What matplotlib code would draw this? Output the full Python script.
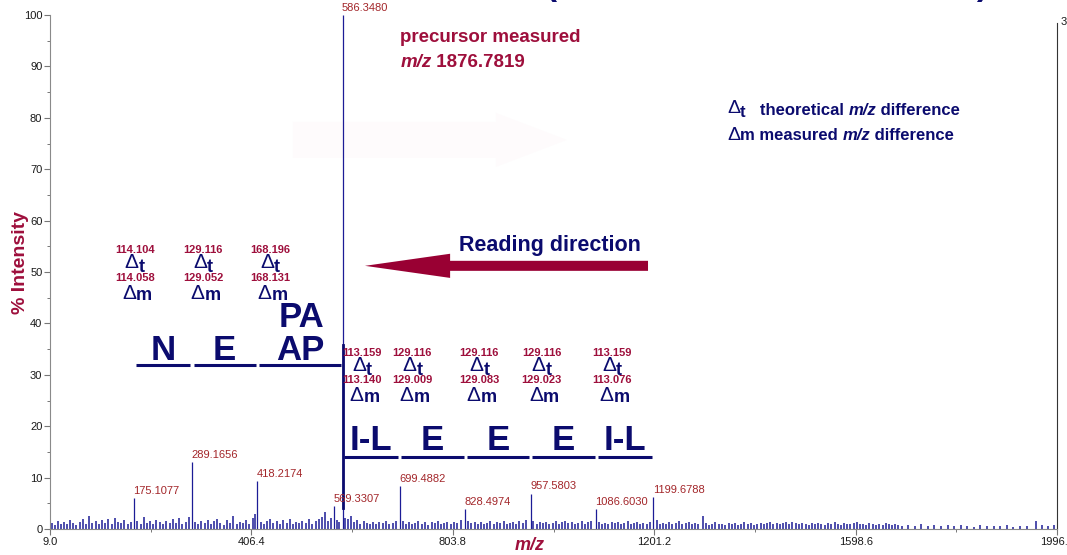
import matplotlib
matplotlib.use("Agg")
import matplotlib.pyplot as plt
from matplotlib.patches import FancyArrow

plt.rcParams["font.family"] = ["Liberation Sans", "DejaVu Sans"]

NAVY = "#0b0b6e"
CRIMSON = "#9e0f3c"
PEAK_RED = "#a3262a"
STICK = "#1c1c96"

# labelled fragment ions (m/z, % intensity)
peak_mz = [175.1077, 289.1656, 418.2174, 569.3307, 586.3480,
           699.4882, 828.4974, 957.5803, 1086.6030, 1199.6788]
peak_int = [6.0, 13.1, 9.4, 4.5, 100.0, 8.4, 3.9, 6.9, 3.9, 6.3]

# unlabelled background sticks
noise_mz = [
    12, 19, 24, 31, 37, 42, 49, 55, 61, 68,
    74, 81, 86, 92, 99, 105, 111, 118, 124, 131,
    137, 143, 150, 156, 163, 169, 181, 188, 194, 200,
    207, 213, 219, 226, 232, 238, 245, 251, 258, 264,
    270, 277, 283, 295, 301, 307, 314, 320, 326, 333,
    339, 345, 352, 358, 364, 371, 377, 383, 390, 396,
    402, 409, 413, 425, 431, 438, 444, 450, 457, 463,
    469, 476, 482, 488, 495, 501, 507, 514, 520, 526,
    533, 539, 545, 552, 558, 563, 575, 580, 592, 597,
    603, 609, 615, 621, 628, 634, 640, 647, 653, 659,
    666, 672, 678, 685, 691, 705, 711, 717, 724, 730,
    736, 743, 749, 755, 762, 768, 774, 781, 787, 793,
    800, 806, 812, 819, 834, 840, 847, 853, 859, 866,
    872, 878, 885, 891, 897, 904, 910, 916, 923, 929,
    935, 942, 948, 963, 969, 975, 982, 988, 994, 1001,
    1007, 1013, 1020, 1026, 1032, 1039, 1045, 1051, 1058, 1064,
    1070, 1077, 1092, 1098, 1104, 1111, 1117, 1123, 1130, 1136,
    1142, 1149, 1155, 1161, 1168, 1174, 1180, 1187, 1193, 1206,
    1212, 1218, 1225, 1231, 1237, 1244, 1250, 1256, 1263, 1269,
    1275, 1282, 1288, 1297, 1303, 1310, 1316, 1322, 1329, 1335,
    1341, 1348, 1354, 1360, 1367, 1373, 1379, 1386, 1392, 1398,
    1405, 1411, 1417, 1424, 1430, 1436, 1443, 1449, 1455, 1462,
    1468, 1474, 1481, 1487, 1493, 1500, 1506, 1512, 1519, 1525,
    1531, 1538, 1544, 1550, 1557, 1563, 1569, 1576, 1582, 1588,
    1595, 1601, 1607, 1614, 1620, 1626, 1633, 1639, 1645, 1652,
    1658, 1664, 1671, 1677, 1683, 1690, 1702, 1715, 1728, 1741,
    1754, 1767, 1780, 1793, 1806, 1819, 1832, 1845, 1858, 1871,
    1884, 1897, 1910, 1923, 1936, 1954, 1966, 1979, 1990,
]
noise_int = [
    1.1, 0.8, 1.6, 1.0, 1.4, 0.9, 1.7, 1.2, 0.8, 1.3,
    1.9, 1.0, 2.6, 1.1, 1.5, 0.9, 1.8, 1.2, 2.0, 1.0,
    2.1, 1.4, 1.1, 1.7, 0.9, 1.3, 1.6, 1.0, 2.3, 1.2,
    1.5, 1.0, 1.8, 1.3, 0.9, 1.6, 1.1, 1.9, 1.2, 2.2,
    1.0, 1.4, 2.4, 1.3, 0.9, 1.6, 1.1, 1.8, 1.0, 1.5,
    2.0, 1.2, 0.8, 1.7, 1.1, 2.5, 1.0, 1.4, 1.2, 1.8,
    1.0, 2.2, 3.0, 1.3, 1.0, 1.6, 2.0, 1.1, 1.5, 0.9,
    1.7, 1.2, 1.9, 1.0, 1.4, 1.1, 1.6, 1.2, 2.0, 1.0,
    1.5, 1.9, 2.4, 3.3, 1.6, 2.1, 1.8, 1.4, 2.2, 1.9,
    2.6, 1.3, 1.8, 1.0, 1.5, 1.2, 1.0, 1.4, 0.9, 1.3,
    1.1, 1.6, 1.0, 1.2, 1.5, 1.6, 1.0, 1.3, 0.9, 1.2,
    1.5, 1.0, 1.4, 0.8, 1.3, 1.1, 1.6, 0.9, 1.2, 1.4,
    1.0, 1.3, 1.1, 1.7, 1.5, 1.1, 1.3, 0.9, 1.4, 1.0,
    1.2, 1.6, 0.9, 1.3, 1.1, 1.5, 1.0, 1.2, 1.4, 0.9,
    1.6, 1.2, 1.8, 1.5, 1.0, 1.3, 1.1, 1.4, 0.9, 1.2,
    1.5, 1.0, 1.3, 1.6, 1.1, 1.4, 1.0, 1.2, 1.5, 0.9,
    1.3, 1.6, 1.4, 1.0, 1.2, 0.9, 1.3, 1.1, 1.4, 1.0,
    1.2, 1.5, 0.9, 1.1, 1.3, 1.0, 1.2, 0.9, 1.4, 1.8,
    1.0, 1.2, 0.9, 1.3, 1.0, 1.2, 1.6, 0.9, 1.1, 1.3,
    1.0, 1.2, 0.9, 2.5, 1.1, 0.8, 1.0, 1.3, 0.9, 1.0,
    0.8, 1.1, 0.9, 1.2, 0.8, 1.0, 1.3, 0.9, 1.1, 0.8,
    1.0, 1.2, 0.9, 1.1, 1.4, 1.0, 1.2, 0.9, 1.1, 1.3,
    1.0, 1.4, 1.1, 0.9, 1.2, 1.0, 0.8, 1.1, 0.9, 1.2,
    1.0, 0.8, 1.1, 0.9, 1.3, 1.0, 0.8, 1.1, 0.9, 1.0,
    1.2, 1.4, 0.9, 1.0, 0.8, 1.1, 0.9, 0.7, 1.0, 0.8,
    1.1, 0.9, 0.7, 1.0, 0.8, 0.6, 0.8, 0.6, 0.9, 0.5,
    0.7, 0.6, 0.8, 0.5, 0.7, 0.6, 0.4, 0.7, 0.5, 0.6,
    0.5, 0.8, 0.4, 0.6, 0.5, 1.6, 0.7, 0.5, 0.8,
]

# sequence ladders read from the fragment series
ladder_left = [175.1077, 289.1656, 418.2174, 586.3480]
residues_left = ["N", "E", "AP"]
dt_left = ["114.104", "129.116", "168.196"]
dm_left = ["114.058", "129.052", "168.131"]
delta_x_left = [176, 311, 443]

ladder_right = [586.3480, 699.4882, 828.4974, 957.5803, 1086.6030, 1199.6788]
residues_right = ["I-L", "E", "E", "E", "I-L"]
dt_right = ["113.159", "129.116", "129.116", "129.116", "113.159"]
dm_right = ["113.140", "129.009", "129.083", "129.023", "113.076"]
delta_x_right = [625, 724, 856, 979, 1118]

x_ticks = [9.0, 406.4, 803.8, 1201.2, 1598.6, 1996.0]

DPI = 100
fig = plt.figure(figsize=(10.67, 5.55), dpi=DPI)
ax = fig.add_axes([50 / 1067, 1 - 529 / 555, 1007 / 1067, 514 / 555])
renderer = fig.canvas.get_renderer()


def run_text(x, y, pieces, center=False):
    """Lay text pieces side by side from (x, y); each piece is
    (text, dy in points, kwargs)."""
    anns, offset = [], 0.0
    for txt, dy, kw in pieces:
        a = ax.annotate(txt, (x, y), xytext=(offset, dy), textcoords="offset points",
                        ha="left", va="baseline", annotation_clip=False, **kw)
        offset += a.get_window_extent(renderer).width * 72 / DPI
        anns.append((a, dy))
    if center:
        shift = offset / 2
        for a, dy in anns:
            ox, _ = a.xyann
            a.xyann = (ox - shift, dy)
    return anns


ax.vlines(noise_mz, 0, noise_int, color=STICK, lw=1.1)
ax.vlines(peak_mz, 0, peak_int, color=STICK, lw=0.9)

for mz, h in zip(peak_mz, peak_int):
    ax.annotate(f"{mz:.4f}", (mz, h), xytext=(-0.5, 1.5), textcoords="offset points",
                ha="left", va="bottom", fontsize=8, color=PEAK_RED,
                annotation_clip=False)

ax.set_xlim(9.0, 1996.0)
ax.set_ylim(0, 100)
ax.set_xticks(x_ticks)
ax.set_xticklabels([f"{t:.1f}" for t in x_ticks])
ax.set_xticks([(a + b) / 2 for a, b in zip(x_ticks[:-1], x_ticks[1:])], minor=True)
ax.set_yticks(range(0, 101, 10))
ax.set_yticks(range(5, 100, 10), minor=True)
ax.tick_params(axis="both", which="major", length=4, width=0.8, color="#777777",
               labelsize=8, pad=1.5, labelcolor="#1a1a1a")
ax.tick_params(axis="both", which="minor", length=2.5, width=0.7, color="#777777")
ax.spines["top"].set_visible(False)
ax.spines["left"].set_color("#8a8a8a")
ax.spines["bottom"].set_color("#8a8a8a")
ax.spines["right"].set_color("#333333")
ax.spines["right"].set_linewidth(0.8)
ax.spines["right"].set_bounds(0, 98.5)

fig.text(21 / 1067, 1 - 262 / 555, "% Intensity", rotation=90, ha="center", va="center",
         fontsize=14, fontweight="bold", color=CRIMSON)
fig.text(530 / 1067, 1 - 545 / 555, "m/z", ha="center", va="center", fontsize=13,
         fontweight="bold", style="italic", color=CRIMSON)
fig.text(1061 / 1067, 1 - 22 / 555, "3", ha="left", va="center", fontsize=8,
         color="#1a1a1a")

# bottoms of a heading that runs off the top edge
for px in (551, 982):
    fig.text(px / 1067, 1 + 5 / 555, "(" if px < 700 else ")", ha="center",
             va="baseline", fontsize=24, fontweight="bold", color=NAVY)

# faint ghost arrow behind the spectrum
ax.add_patch(FancyArrow(488, 75.7, 541, 0, width=7.0, head_width=10.5,
                        head_length=140, length_includes_head=True,
                        color="#fefbfc", lw=0, zorder=0))

bold_c = dict(fontsize=13.5, fontweight="bold", color=CRIMSON)
ax.text(700, 95.7, "precursor measured", ha="left", va="center", **bold_c)
run_text(700, 89.9, [("m/z", 0, dict(style="italic", **bold_c)),
                     (" 1876.7819", 0, bold_c)])

bold_n = dict(fontsize=12, fontweight="bold", color=NAVY)
delta_n = dict(fontsize=14, color=NAVY)
run_text(1345, 80.6, [("Δ", 1, delta_n), ("t", -2, bold_n),
                      ("   theoretical ", 0, bold_n),
                      ("m/z", 0, dict(style="italic", **bold_n)),
                      (" difference", 0, bold_n)])
run_text(1345, 75.7, [("Δ", 0, delta_n), ("m measured ", 0, bold_n),
                      ("m/z", 0, dict(style="italic", **bold_n)),
                      (" difference", 0, bold_n)])

ax.text(996, 55.1, "Reading direction", ha="center", va="center", fontsize=15.5,
        fontweight="bold", color=NAVY)
ax.add_patch(FancyArrow(1189, 51.2, 630.5 - 1189, 0, width=1.95, head_width=4.7,
                        head_length=168, length_includes_head=True,
                        color="#990033", lw=0, zorder=3))

sub_n = dict(fontsize=13, fontweight="bold", color=NAVY)
big_delta = dict(fontsize=15, color=NAVY)


def ladder(masses, residues, dts, dms, xs, y_dt, y_dm, y_res, y_line):
    for a, b, res in zip(masses[:-1], masses[1:], residues):
        ax.plot([a + 3, b - 3], [y_line, y_line], color=NAVY, lw=2.2,
                solid_capstyle="butt")
        ax.text((a + b) / 2, y_res, res, ha="center", va="center", fontsize=25,
                fontweight="bold", color=NAVY)
    for x, t, m in zip(xs, dts, dms):
        ax.text(x, y_dt, t, ha="center", va="center", fontsize=8,
                fontweight="bold", color=CRIMSON)
        run_text(x, y_dt - 3.9, [("Δ", 1.5, big_delta), ("t", -1.5, sub_n)],
                 center=True)
        ax.text(x, y_dm, m, ha="center", va="center", fontsize=8,
                fontweight="bold", color=CRIMSON)
        run_text(x + 5, y_dm - 4.2, [("Δ", 0.5, big_delta), ("m", -0.5, sub_n)],
                 center=True)


ladder(ladder_left, residues_left, dt_left, dm_left, delta_x_left,
       54.3, 48.8, 34.8, 31.9)
ax.text(506, 41.1, "PA", ha="center", va="center", fontsize=25,
        fontweight="bold", color=NAVY)

ladder(ladder_right, residues_right, dt_right, dm_right, delta_x_right,
       34.2, 29.0, 17.3, 14.0)
ax.plot([peak_mz[4], peak_mz[4]], [4.0, 35.8], color=NAVY, lw=2.0)

fig.savefig("out.png", dpi=DPI)
